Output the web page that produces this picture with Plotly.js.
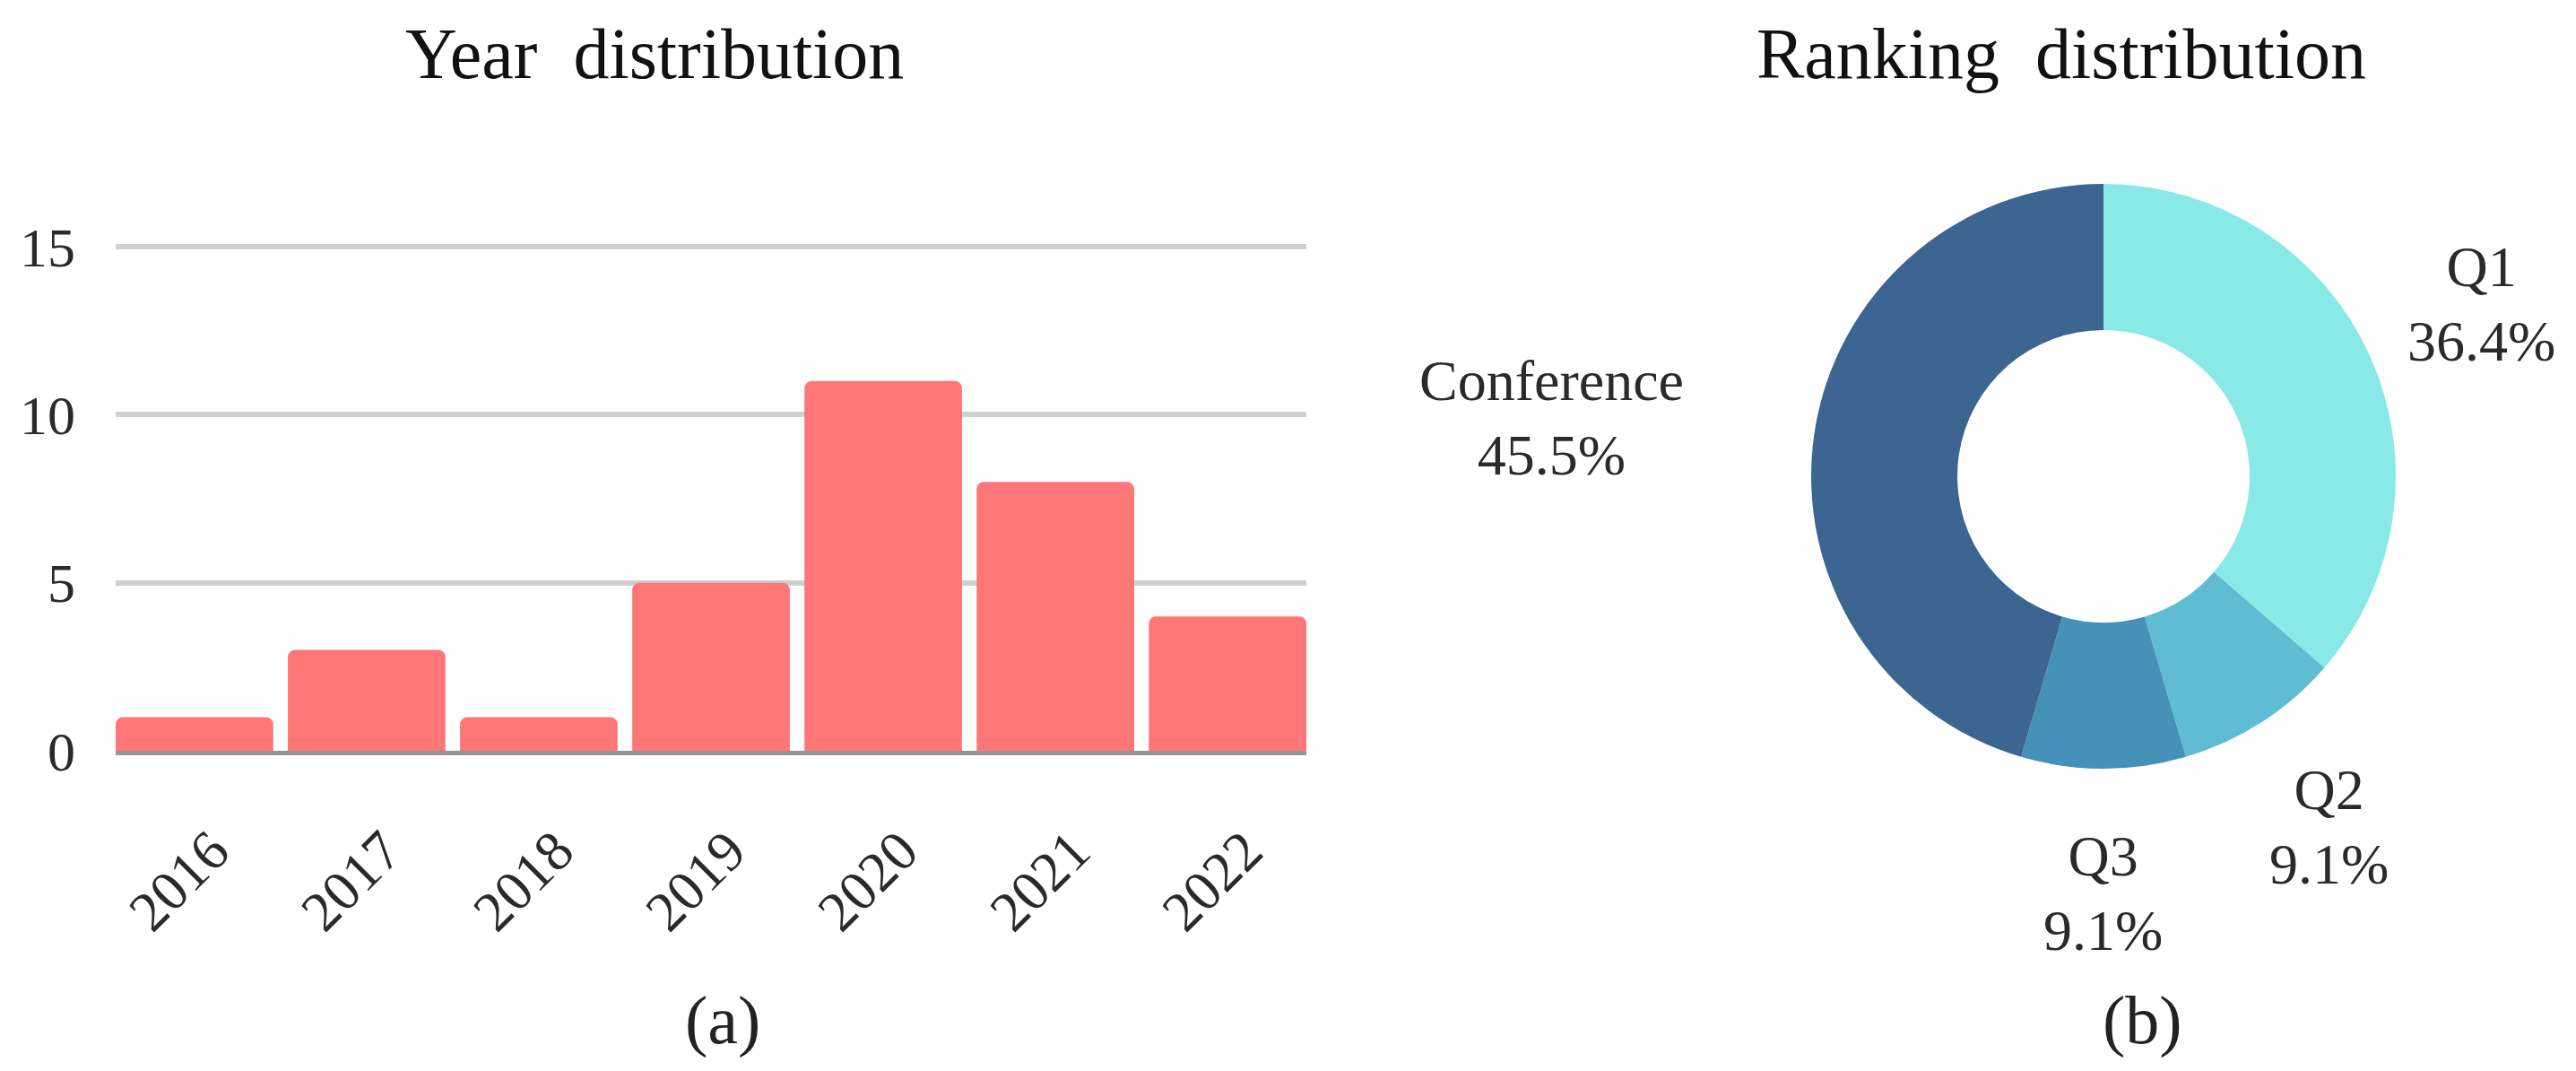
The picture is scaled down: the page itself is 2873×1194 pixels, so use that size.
<!DOCTYPE html>
<html><head><meta charset="utf-8">
<script src="https://cdn.plot.ly/plotly-3.0.1.min.js"></script>
<style>html,body{margin:0;padding:0;background:#fff;} #chart{width:2873px;height:1194px;}</style>
</head><body><div id="chart"></div>
<script>
// ---- data ----
const years = ['2016', '2017', '2018', '2019', '2020', '2021', '2022'];
const yearCounts = [1, 3, 1, 5, 11, 8, 4];
const yTickVals = [0, 5, 10, 15];
const rankLabels = ['Q1', 'Q2', 'Q3', 'Conference'];
const rankCounts = [12, 3, 3, 15];

// ---- styles ----
const rankColors = ['#88e9e7', '#5fbcd3', '#4691b8', '#3c6592'];
const barColor = '#ff7676';
const FONT = '"Liberation Serif", "Times New Roman", Times, serif';
const W = 2873, H = 1194;
const px = x => x / W;
const py = y => 1 - y / H;

const gap = 0.085;
const total = rankCounts.reduce((a, b) => a + b, 0);
const pct = rankCounts.map(v => (v / total * 100).toFixed(1) + '%');

// y-axis pixel scale (0 at 837px, 15 at 275px), small headroom so the top gridline is not clipped
const yTop = 15.1;
const unitPx = (837 - 275) / 15;

const barTrace = {
  type: 'bar', x: years, y: yearCounts, xaxis: 'x', yaxis: 'y',
  marker: { color: barColor, cornerradius: 8, line: { width: 0 } },
  hoverinfo: 'skip', showlegend: false
};

const pieTrace = {
  type: 'pie', labels: rankLabels, values: rankCounts,
  sort: false, direction: 'clockwise', rotation: 0, hole: 0.5,
  marker: { colors: rankColors, line: { width: 0 } },
  textinfo: 'none', hoverinfo: 'skip', showlegend: false,
  domain: { x: [px(2020), px(2672)], y: [py(857), py(205)] }
};

const pieLabelPos = [[2767, 339], [2597, 922], [2345, 996], [1730, 466]];

const annotations = [
  { text: 'Year\u00a0 distribution', x: px(730), y: py(60), size: 80, color: '#111' },
  { text: 'Ranking\u00a0 distribution', x: px(2299), y: py(60), size: 80, color: '#111' },
  { text: '(a)', x: px(806), y: py(1137), size: 76, color: '#222' },
  { text: '(b)', x: px(2389), y: py(1137), size: 76, color: '#222' }
].map(a => ({
  text: a.text, x: a.x, y: a.y, xref: 'paper', yref: 'paper',
  xanchor: 'center', yanchor: 'middle', showarrow: false,
  font: { family: FONT, size: a.size, color: a.color }
}));

rankLabels.forEach((lab, i) => {
  annotations.push({
    text: lab + '<br>' + pct[i],
    x: px(pieLabelPos[i][0]), y: py(pieLabelPos[i][1]),
    xref: 'paper', yref: 'paper', xanchor: 'center', yanchor: 'middle',
    showarrow: false, align: 'center',
    font: { family: FONT, size: 64, color: '#2a2a2a' }
  });
});

const layout = {
  width: W, height: H,
  margin: { l: 0, r: 0, t: 0, b: 0 },
  paper_bgcolor: '#ffffff', plot_bgcolor: '#ffffff',
  showlegend: false, bargap: gap,
  font: { family: FONT, size: 60, color: '#2a2a2a' },
  xaxis: {
    domain: [px(129), px(1457)], type: 'category',
    range: [-(1 - gap) / 2, years.length - 1 + (1 - gap) / 2],
    tickangle: -45, tickfont: { family: FONT, size: 63, color: '#2a2a2a' },
    showgrid: false, zeroline: false,
    showline: true, linecolor: 'rgba(60,60,60,0.55)', linewidth: 5,
    layer: 'above traces', ticks: '', ticklabelstandoff: 44, ticklabelshift: 20,
    fixedrange: true
  },
  yaxis: {
    domain: [py(837), py(837 - yTop * unitPx)], range: [0, yTop],
    tickvals: yTickVals, ticktext: yTickVals.map(String),
    showgrid: true, gridcolor: '#cfcfcf', gridwidth: 6,
    zeroline: false, showline: false, ticks: '',
    tickfont: { family: FONT, size: 62, color: '#2a2a2a' },
    ticklabelstandoff: 44, fixedrange: true
  },
  annotations: annotations
};

Plotly.newPlot('chart', [barTrace, pieTrace], layout, { displayModeBar: false, staticPlot: true });
</script>
</body></html>
